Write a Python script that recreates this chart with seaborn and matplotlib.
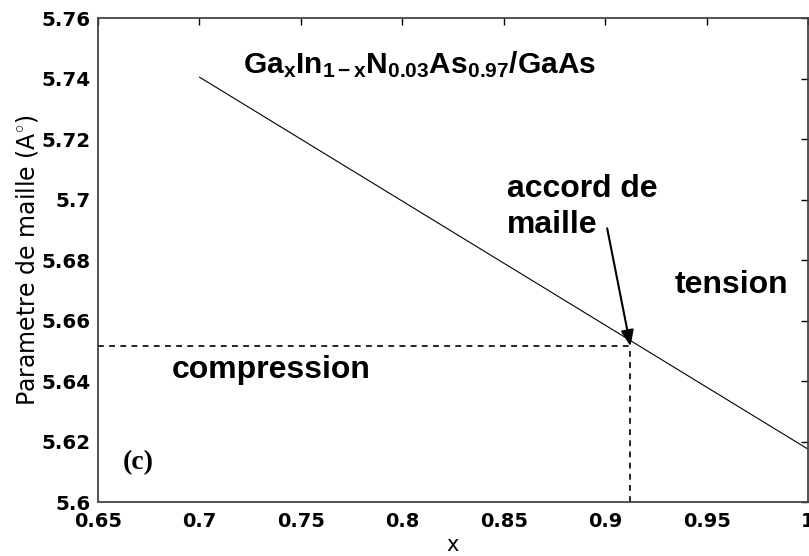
import matplotlib
matplotlib.use("Agg")
import matplotlib.pyplot as plt
import seaborn as sns
import pandas as pd

# data
x_comp = [0.70, 1.00]
a_lattice = [5.7405, 5.6175]
x_match = 0.9125
a_match = 5.6515
x_ticks = [0.65, 0.7, 0.75, 0.8, 0.85, 0.9, 0.95, 1.0]
x_ticklabels = ["0.65", "0.7", "0.75", "0.8", "0.85", "0.9", "0.95", "1"]
y_ticks = [5.6, 5.62, 5.64, 5.66, 5.68, 5.7, 5.72, 5.74, 5.76]
y_ticklabels = ["5.6", "5.62", "5.64", "5.66", "5.68", "5.7", "5.72", "5.74", "5.76"]

sns.set_theme(style="white")
plt.rcParams['font.family'] = ['Liberation Sans', 'DejaVu Sans']
plt.rcParams['text.color'] = 'black'
plt.rcParams['axes.labelcolor'] = 'black'
plt.rcParams['xtick.color'] = 'black'
plt.rcParams['ytick.color'] = 'black'
plt.rcParams['mathtext.fontset'] = 'custom'
plt.rcParams['mathtext.rm'] = 'Liberation Sans'
plt.rcParams['mathtext.bf'] = 'Liberation Sans:bold'
plt.rcParams['mathtext.it'] = 'Liberation Sans:italic'

fig = plt.figure(figsize=(8.09, 5.56), dpi=100)
ax = fig.add_axes([0.121, 0.097, 0.8778, 0.8705])

df = pd.DataFrame({"x": x_comp, "a": a_lattice})
sns.lineplot(data=df, x="x", y="a", ax=ax, color="black", linewidth=0.8)

ax.plot([0.65, x_match], [a_match, a_match], color="black", linestyle=(0, (3.5, 3.2)), linewidth=1.2)
ax.plot([x_match, x_match], [5.6, a_match], color="black", linestyle=(0, (3.5, 3.2)), linewidth=1.2)

ax.annotate("", xy=(x_match, a_match), xytext=(0.901, 5.6905),
            arrowprops=dict(arrowstyle="-|>,head_length=0.8,head_width=0.32", color="black", lw=1.5,
                            shrinkA=0, shrinkB=0))

ax.set_xlim(0.65, 1.0)
ax.set_ylim(5.6, 5.76)
ax.set_xticks(x_ticks)
ax.set_xticklabels(x_ticklabels, fontsize=14, fontweight="bold", family="DejaVu Sans")
ax.set_yticks(y_ticks)
ax.set_yticklabels(y_ticklabels, fontsize=14.3, fontweight="bold", family="DejaVu Sans")
ax.tick_params(axis="x", direction="in", length=5, width=1, top=True, pad=7)
ax.tick_params(axis="y", direction="in", length=5, width=1, right=True, pad=5.5)
ax.set_xlabel("x", fontsize=15, labelpad=3, family="DejaVu Sans")
ax.set_ylabel("Parametre de maille (A$^{\\circ}$)", fontsize=17, labelpad=1, family="DejaVu Sans")
for s in ax.spines.values():
    s.set_color("#444444")
    s.set_linewidth(1.3)

ax.text(0.7215, 5.7446, r"$\mathbf{Ga_xIn_{1-x}N_{0.03}As_{0.97}/GaAs}$", fontsize=21.5, ha="left", va="center")
ax.text(0.8516, 5.7008, "accord de", fontsize=23, fontweight="bold", ha="left", va="baseline")
ax.text(0.8516, 5.6889, "maille", fontsize=23, fontweight="bold", ha="left", va="baseline")
ax.text(0.9344, 5.6691, "tension", fontsize=23, fontweight="bold", ha="left", va="baseline")
ax.text(0.6865, 5.641, "compression", fontsize=23, fontweight="bold", ha="left", va="baseline")
ax.text(0.6623, 5.613, "(c)", fontsize=20, fontweight="bold", family="Liberation Serif", ha="left", va="center")

fig.savefig("out.png", dpi=100)
